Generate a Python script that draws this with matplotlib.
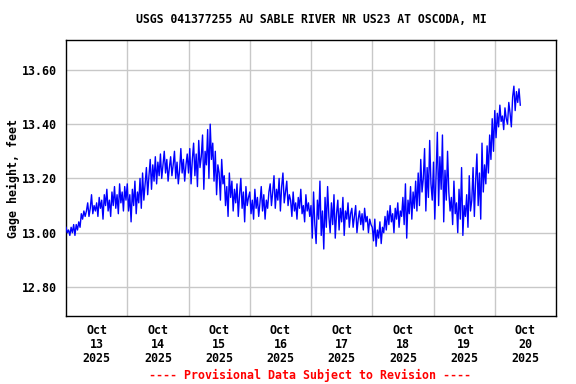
import numpy as np
import pandas as pd
import matplotlib
matplotlib.use("Agg")
import matplotlib.pyplot as plt
import matplotlib.dates as mdates

# gage height (feet), half-hour readings from Oct 13 2025 00:00
oct13 = [13.02, 13.00, 13.01, 12.99, 13.02, 13.00, 13.03, 12.99,
         13.03, 13.01, 13.04, 13.02, 13.07, 13.05, 13.08, 13.06,
         13.08, 13.11, 13.06, 13.09, 13.14, 13.07, 13.10, 13.08,
         13.11, 13.06, 13.13, 13.09, 13.12, 13.05, 13.14, 13.10,
         13.16, 13.08, 13.12, 13.06, 13.15, 13.10, 13.17, 13.09,
         13.14, 13.07, 13.18, 13.11, 13.15, 13.08, 13.17, 13.12]
oct14 = [13.18, 13.08, 13.14, 13.04, 13.16, 13.10, 13.19, 13.07, 13.15, 13.11, 13.20, 13.09,
         13.22, 13.12, 13.18, 13.24, 13.14, 13.21, 13.27, 13.16, 13.25, 13.19, 13.28, 13.18,
         13.26, 13.21, 13.29, 13.20, 13.25, 13.30, 13.22, 13.27, 13.19, 13.24, 13.28, 13.21,
         13.25, 13.30, 13.20, 13.26, 13.18, 13.23, 13.31, 13.22, 13.27, 13.19, 13.25, 13.29]
oct15 = [13.22, 13.31, 13.18, 13.27, 13.33, 13.21, 13.29, 13.17, 13.34, 13.24,
         13.28, 13.36, 13.16, 13.30, 13.25, 13.38, 13.20, 13.40, 13.27, 13.33,
         13.19, 13.30, 13.14, 13.25, 13.22, 13.12, 13.27, 13.18,
         13.21, 13.10, 13.17, 13.06, 13.22, 13.13, 13.19, 13.08, 13.16, 13.11,
         13.18, 13.06, 13.14, 13.20, 13.09, 13.15, 13.04, 13.17, 13.10, 13.13]
oct16 = [13.15, 13.07, 13.12, 13.05, 13.16, 13.09, 13.13, 13.06, 13.11, 13.17, 13.08, 13.14, 13.05, 13.12, 13.09, 13.15,
         13.18, 13.10, 13.15, 13.21, 13.09, 13.16, 13.12, 13.20, 13.08, 13.17, 13.22, 13.11, 13.15, 13.19, 13.10, 13.14,
         13.12, 13.06, 13.15, 13.08, 13.11, 13.05, 13.13, 13.09, 13.16, 13.07, 13.10, 13.04, 13.14, 13.08, 13.11, 13.06]
oct17 = [13.10, 12.98, 13.15, 13.03, 12.96, 13.12, 13.05, 13.19, 12.99, 13.08, 12.94, 13.13, 13.02, 13.17, 13.06, 13.00,
         13.11, 13.03, 13.14, 12.98, 13.07, 13.12, 13.01, 13.09, 13.04, 13.13, 12.99, 13.08, 13.05, 13.11, 13.02, 13.07,
         13.09, 13.02, 13.06, 13.10, 13.00, 13.05, 13.08, 13.03, 13.07, 13.01, 13.09, 13.04, 13.06, 13.00, 13.05, 13.03]
oct18 = [13.02, 12.97, 13.05, 12.95, 13.01, 12.98, 13.04, 12.96, 13.02, 13.00,
         13.06, 13.01, 13.08, 13.03, 13.10, 13.04, 13.07, 13.00, 13.09, 13.05, 13.11, 13.02, 13.08, 13.06,
         13.13, 13.03, 13.18, 12.98, 13.12, 13.07, 13.17, 13.05, 13.15, 13.09, 13.19, 13.08,
         13.22, 13.10, 13.27, 13.15, 13.20, 13.31, 13.08, 13.24, 13.13, 13.34, 13.18, 13.12]
oct19 = [13.26, 13.05, 13.21, 13.37, 13.10, 13.28, 13.16, 13.36, 13.04, 13.23, 13.12, 13.30, 13.15, 13.08,
         13.13, 13.03, 13.19, 13.07, 13.11, 13.00, 13.16, 13.05, 13.24, 12.99, 13.10, 13.06, 13.14, 13.02, 13.21, 13.08,
         13.12, 13.24, 13.06, 13.19, 13.29, 13.10, 13.22, 13.05, 13.33, 13.15,
         13.25, 13.18, 13.32, 13.22, 13.36, 13.27, 13.42, 13.30]
oct20 = [13.45, 13.35,
         13.44, 13.39, 13.47, 13.41, 13.43, 13.38, 13.46, 13.42, 13.40, 13.48, 13.44, 13.39,
         13.50, 13.54, 13.45, 13.52, 13.48, 13.53, 13.47]

gage = oct13 + oct14 + oct15 + oct16 + oct17 + oct18 + oct19 + oct20
times = pd.date_range("2025-10-13 00:00", periods=len(gage), freq="30min")

day_labels = ["Oct\n13\n2025", "Oct\n14\n2025", "Oct\n15\n2025", "Oct\n16\n2025",
              "Oct\n17\n2025", "Oct\n18\n2025", "Oct\n19\n2025", "Oct\n20\n2025"]
y_ticks = [12.80, 13.00, 13.20, 13.40, 13.60]

font = "DejaVu Sans Mono"

fig = plt.figure(figsize=(5.76, 3.84), dpi=100)
ax = fig.add_axes([0.1146, 0.177, 0.8507, 0.7188])

ax.plot(times, gage, color="#0000ff", linewidth=1.0, zorder=3)

start = pd.Timestamp("2025-10-13")
ax.set_xlim(start, start + pd.Timedelta(days=8))
ax.set_ylim(12.693, 13.71)

noons = [start + pd.Timedelta(days=i, hours=12) for i in range(len(day_labels))]
midnights = [start + pd.Timedelta(days=i) for i in range(1, 8)]
ax.set_xticks(noons)
ax.set_xticklabels(day_labels, fontfamily=font, fontweight="bold", fontsize=8.4, linespacing=1.1)
ax.set_xticks(midnights, minor=True)
ax.tick_params(axis="x", which="both", length=0, pad=6)

ax.set_yticks(y_ticks)
ax.set_yticklabels([f"{v:.2f}" for v in y_ticks], fontfamily=font, fontweight="bold", fontsize=8.4)
ax.tick_params(axis="y", length=0, pad=6.5)

ax.grid(True, which="minor", axis="x", color="#c8c8c8", linewidth=1.0, zorder=0)
ax.grid(True, which="major", axis="y", color="#c8c8c8", linewidth=1.0, zorder=0)
ax.set_axisbelow(True)

for s in ax.spines.values():
    s.set_linewidth(1.0)
    s.set_color("black")

ax.set_ylabel("Gage height, feet", fontfamily=font, fontweight="bold", fontsize=8.4)
ax.yaxis.set_label_coords(-0.094, 0.5)

fig.text(0.54, 0.95, "USGS 041377255 AU SABLE RIVER NR US23 AT OSCODA, MI",
         ha="center", va="center", fontfamily=font, fontweight="bold", fontsize=8.3)
fig.text(0.538, 0.023, "---- Provisional Data Subject to Revision ----",
         ha="center", va="center", fontfamily=font, fontweight="bold", fontsize=8.4, color="red")

fig.savefig("out.png", dpi=100)
